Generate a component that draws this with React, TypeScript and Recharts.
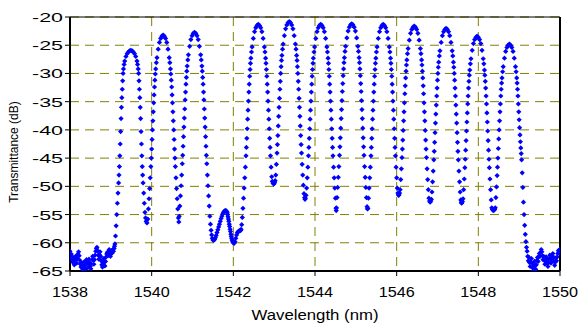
import React from 'react';
import { ScatterChart, Scatter, XAxis, YAxis, CartesianGrid, ReferenceLine } from 'recharts';

// wavelength (nm), transmittance (dB)
const noiseLeft: [number, number][] = [
  [1538.0, -61.5], [1538.015, -62.3], [1538.03, -62.0], [1538.045, -62.8], [1538.06, -63.4], [1538.075, -62.6],
  [1538.09, -63.2], [1538.105, -63.9], [1538.12, -63.0], [1538.135, -62.4], [1538.15, -62.9], [1538.165, -63.6],
  [1538.18, -62.8], [1538.195, -62.0], [1538.21, -61.6], [1538.225, -62.3], [1538.24, -63.1], [1538.255, -63.8],
  [1538.27, -64.3], [1538.285, -63.5], [1538.3, -64.1], [1538.315, -64.8], [1538.33, -64.2], [1538.345, -63.4],
  [1538.36, -64.0], [1538.375, -64.7], [1538.39, -63.8], [1538.405, -63.0], [1538.42, -63.6], [1538.435, -64.4],
  [1538.45, -63.7], [1538.465, -62.9], [1538.48, -63.5], [1538.495, -64.2], [1538.51, -64.6], [1538.525, -63.8],
  [1538.54, -63.0], [1538.555, -62.4], [1538.57, -63.1], [1538.585, -63.8], [1538.6, -63.0], [1538.615, -62.2],
  [1538.63, -61.5], [1538.645, -61.0], [1538.66, -60.8], [1538.675, -61.4], [1538.69, -62.2], [1538.705, -62.9],
  [1538.72, -62.1], [1538.735, -61.6], [1538.75, -62.4], [1538.765, -63.2], [1538.78, -63.9], [1538.795, -64.3],
  [1538.81, -63.6], [1538.825, -62.8], [1538.84, -63.4], [1538.855, -64.1], [1538.87, -63.3], [1538.885, -62.5],
  [1538.9, -62.0], [1538.915, -61.7], [1538.93, -62.3], [1538.945, -61.6], [1538.96, -61.2], [1538.975, -61.8],
  [1538.99, -62.4], [1539.005, -61.9], [1539.02, -61.4], [1539.035, -61.8], [1539.05, -61.2], [1539.065, -61.5],
  [1539.08, -61.0], [1539.09, -60.6],
];

const fringe1: [number, number][] = [
  [1539.1, -60.2], [1539.115, -58.8], [1539.13, -57.0], [1539.145, -55.0], [1539.16, -53.0], [1539.175, -51.2],
  [1539.19, -49.4], [1539.2, -48.0], [1539.21, -46.5], [1539.22, -44.6], [1539.23, -42.5], [1539.24, -40.3],
  [1539.25, -38.0], [1539.26, -36.0], [1539.27, -34.3], [1539.28, -32.8], [1539.29, -31.3], [1539.3, -30.0],
  [1539.31, -29.2], [1539.325, -28.4], [1539.34, -27.8], [1539.37, -27.0], [1539.4, -26.5], [1539.43, -26.2],
  [1539.46, -26.0], [1539.49, -25.9], [1539.52, -26.0], [1539.55, -26.2], [1539.58, -26.5], [1539.61, -27.0],
  [1539.64, -27.8], [1539.655, -28.4], [1539.67, -29.2], [1539.68, -30.0], [1539.69, -31.3], [1539.7, -32.8],
  [1539.71, -34.3], [1539.72, -36.0], [1539.73, -38.0], [1539.74, -40.3], [1539.75, -42.5], [1539.76, -44.6],
  [1539.77, -46.5], [1539.78, -48.0], [1539.79, -49.4], [1539.805, -51.2], [1539.82, -53.0], [1539.835, -54.6],
  [1539.85, -55.6], [1539.865, -56.2], [1539.885, -56.5],
];

const fringe2: [number, number][] = [
  [1539.905, -55.8], [1539.92, -54.0], [1539.935, -52.2], [1539.95, -50.4], [1539.965, -48.5], [1539.98, -46.5],
  [1539.99, -45.0], [1540.0, -43.4], [1540.01, -41.7], [1540.02, -40.0], [1540.03, -38.4], [1540.04, -36.8],
  [1540.05, -35.2], [1540.06, -33.8], [1540.07, -32.4], [1540.08, -31.2], [1540.09, -30.1], [1540.1, -29.2],
  [1540.115, -28.1], [1540.13, -27.2], [1540.16, -25.7], [1540.19, -24.5], [1540.22, -23.8], [1540.25, -23.4],
  [1540.28, -23.2], [1540.31, -23.4], [1540.34, -23.8], [1540.37, -24.5], [1540.4, -25.7], [1540.43, -27.2],
  [1540.445, -28.1], [1540.46, -29.2], [1540.47, -30.1], [1540.48, -31.2], [1540.49, -32.4], [1540.5, -33.8],
  [1540.51, -35.2], [1540.52, -36.8], [1540.53, -38.4], [1540.54, -40.0], [1540.55, -41.7], [1540.56, -43.4],
  [1540.57, -45.0], [1540.58, -46.5], [1540.595, -48.5], [1540.61, -50.4], [1540.625, -52.2], [1540.64, -54.0],
  [1540.655, -55.6], [1540.665, -56.3],
];

const fringe3: [number, number][] = [
  [1540.675, -55.3], [1540.69, -53.5], [1540.705, -51.7], [1540.72, -49.9], [1540.735, -48.0], [1540.75, -46.0],
  [1540.76, -44.5], [1540.77, -42.9], [1540.78, -41.2], [1540.79, -39.5], [1540.8, -37.9], [1540.81, -36.3],
  [1540.82, -34.7], [1540.83, -33.3], [1540.84, -31.9], [1540.85, -30.7], [1540.86, -29.6], [1540.87, -28.7],
  [1540.885, -27.6], [1540.9, -26.7], [1540.93, -25.2], [1540.96, -24.0], [1540.99, -23.3], [1541.02, -22.9],
  [1541.05, -22.7], [1541.08, -22.9], [1541.11, -23.3], [1541.14, -24.0], [1541.17, -25.2], [1541.2, -26.7],
  [1541.215, -27.6], [1541.23, -28.7], [1541.24, -29.6], [1541.25, -30.7], [1541.26, -31.9], [1541.27, -33.3],
  [1541.28, -34.7], [1541.29, -36.3], [1541.3, -37.9], [1541.31, -39.5], [1541.32, -41.2], [1541.33, -42.9],
  [1541.34, -44.5], [1541.35, -46.0], [1541.365, -48.0], [1541.38, -49.9], [1541.395, -51.7], [1541.41, -53.5],
  [1541.425, -55.3], [1541.44, -56.7], [1541.455, -57.8], [1541.47, -58.6], [1541.485, -59.2],
];

const dip: [number, number][] = [
  [1541.5, -59.5], [1541.52, -59.6], [1541.54, -59.4], [1541.56, -59.1], [1541.58, -58.7], [1541.6, -58.2],
  [1541.62, -57.7], [1541.64, -57.2], [1541.66, -56.7], [1541.68, -56.2], [1541.7, -55.7], [1541.72, -55.3],
  [1541.74, -54.9], [1541.76, -54.6], [1541.78, -54.4], [1541.8, -54.3], [1541.82, -54.3], [1541.84, -54.5],
  [1541.85, -54.7], [1541.86, -55.0], [1541.87, -55.4], [1541.88, -55.8], [1541.89, -56.2], [1541.9, -56.7],
  [1541.91, -57.1], [1541.92, -57.6], [1541.93, -58.0], [1541.94, -58.5], [1541.95, -58.9], [1541.96, -59.2],
  [1541.97, -59.5], [1541.98, -59.7], [1541.99, -59.9], [1542.0, -60.0], [1542.02, -60.1], [1542.04, -59.8],
  [1542.06, -59.2], [1542.08, -58.6], [1542.1, -58.2], [1542.12, -58.0], [1542.14, -57.9], [1542.16, -57.9],
  [1542.18, -57.8],
];

const fringe4: [number, number][] = [
  [1542.19, -57.6], [1542.205, -56.8], [1542.22, -55.5], [1542.235, -53.9], [1542.25, -52.1], [1542.265, -50.3],
  [1542.28, -48.5], [1542.295, -46.6], [1542.31, -44.6], [1542.32, -43.1], [1542.33, -41.5], [1542.34, -39.8],
  [1542.35, -38.1], [1542.36, -36.5], [1542.37, -34.9], [1542.38, -33.3], [1542.39, -31.9], [1542.4, -30.5],
  [1542.41, -29.3], [1542.42, -28.2], [1542.43, -27.3], [1542.445, -26.2], [1542.46, -25.3], [1542.49, -23.8],
  [1542.52, -22.6], [1542.55, -21.9], [1542.58, -21.5], [1542.61, -21.3], [1542.64, -21.5], [1542.67, -21.9],
  [1542.7, -22.6], [1542.73, -23.8], [1542.76, -25.3], [1542.775, -26.2], [1542.79, -27.3], [1542.8, -28.2],
  [1542.81, -29.3], [1542.82, -30.5], [1542.83, -31.9], [1542.84, -33.3], [1542.85, -34.9], [1542.86, -36.5],
  [1542.87, -38.1], [1542.88, -39.8], [1542.89, -41.5], [1542.9, -43.1], [1542.91, -44.6], [1542.925, -46.6],
  [1542.94, -48.3], [1542.955, -49.1], [1542.97, -49.4], [1542.985, -49.5], [1542.99, -49.6],
];

const fringe5: [number, number][] = [
  [1542.995, -49.5], [1543.01, -49.3], [1543.025, -49.0], [1543.04, -48.0], [1543.055, -46.1], [1543.07, -44.1],
  [1543.08, -42.6], [1543.09, -41.0], [1543.1, -39.3], [1543.11, -37.6], [1543.12, -36.0], [1543.13, -34.4],
  [1543.14, -32.8], [1543.15, -31.4], [1543.16, -30.0], [1543.17, -28.8], [1543.18, -27.7], [1543.19, -26.8],
  [1543.205, -25.7], [1543.22, -24.8], [1543.25, -23.3], [1543.28, -22.1], [1543.31, -21.4], [1543.34, -21.0],
  [1543.37, -20.8], [1543.4, -21.0], [1543.43, -21.4], [1543.46, -22.1], [1543.49, -23.3], [1543.52, -24.8],
  [1543.535, -25.7], [1543.55, -26.8], [1543.56, -27.7], [1543.57, -28.8], [1543.58, -30.0], [1543.59, -31.4],
  [1543.6, -32.8], [1543.61, -34.4], [1543.62, -36.0], [1543.63, -37.6], [1543.64, -39.3], [1543.65, -41.0],
  [1543.66, -42.6], [1543.67, -44.1], [1543.685, -46.1], [1543.7, -48.0], [1543.715, -49.8], [1543.73, -51.3],
  [1543.745, -52.0], [1543.755, -52.3],
];

const fringe6: [number, number][] = [
  [1543.765, -52.1], [1543.78, -51.6], [1543.795, -50.3], [1543.81, -48.5], [1543.825, -46.6], [1543.84, -44.6],
  [1543.85, -43.1], [1543.86, -41.5], [1543.87, -39.8], [1543.88, -38.1], [1543.89, -36.5], [1543.9, -34.9],
  [1543.91, -33.3], [1543.92, -31.9], [1543.93, -30.5], [1543.94, -29.3], [1543.95, -28.2], [1543.96, -27.3],
  [1543.975, -26.2], [1543.99, -25.3], [1544.02, -23.8], [1544.05, -22.6], [1544.08, -21.9], [1544.11, -21.5],
  [1544.14, -21.3], [1544.17, -21.5], [1544.2, -21.9], [1544.23, -22.6], [1544.26, -23.8], [1544.29, -25.3],
  [1544.305, -26.2], [1544.32, -27.3], [1544.33, -28.2], [1544.34, -29.3], [1544.35, -30.5], [1544.36, -31.9],
  [1544.37, -33.3], [1544.38, -34.9], [1544.39, -36.5], [1544.4, -38.1], [1544.41, -39.8], [1544.42, -41.5],
  [1544.43, -43.1], [1544.44, -44.6], [1544.455, -46.6], [1544.47, -48.5], [1544.485, -50.3], [1544.5, -52.1],
  [1544.515, -53.9], [1544.52, -54.3],
];

const fringe7: [number, number][] = [
  [1544.525, -53.8], [1544.54, -52.0], [1544.555, -50.2], [1544.57, -48.4], [1544.585, -46.5], [1544.6, -44.5],
  [1544.61, -43.0], [1544.62, -41.4], [1544.63, -39.7], [1544.64, -38.0], [1544.65, -36.4], [1544.66, -34.8],
  [1544.67, -33.2], [1544.68, -31.8], [1544.69, -30.4], [1544.7, -29.2], [1544.71, -28.1], [1544.72, -27.2],
  [1544.735, -26.1], [1544.75, -25.2], [1544.78, -23.7], [1544.81, -22.5], [1544.84, -21.8], [1544.87, -21.4],
  [1544.9, -21.2], [1544.93, -21.4], [1544.96, -21.8], [1544.99, -22.5], [1545.02, -23.7], [1545.05, -25.2],
  [1545.065, -26.1], [1545.08, -27.2], [1545.09, -28.1], [1545.1, -29.2], [1545.11, -30.4], [1545.12, -31.8],
  [1545.13, -33.2], [1545.14, -34.8], [1545.15, -36.4], [1545.16, -38.0], [1545.17, -39.7], [1545.18, -41.4],
  [1545.19, -43.0], [1545.2, -44.5], [1545.215, -46.5], [1545.23, -48.4], [1545.245, -50.2], [1545.26, -52.0],
  [1545.275, -53.6], [1545.285, -54.0],
];

const fringe8: [number, number][] = [
  [1545.295, -53.9], [1545.31, -52.1], [1545.325, -50.3], [1545.34, -48.5], [1545.355, -46.6], [1545.37, -44.6],
  [1545.38, -43.1], [1545.39, -41.5], [1545.4, -39.8], [1545.41, -38.1], [1545.42, -36.5], [1545.43, -34.9],
  [1545.44, -33.3], [1545.45, -31.9], [1545.46, -30.5], [1545.47, -29.3], [1545.48, -28.2], [1545.49, -27.3],
  [1545.505, -26.2], [1545.52, -25.3], [1545.55, -23.8], [1545.58, -22.6], [1545.61, -21.9], [1545.64, -21.5],
  [1545.67, -21.3], [1545.7, -21.5], [1545.73, -21.9], [1545.76, -22.6], [1545.79, -23.8], [1545.82, -25.3],
  [1545.835, -26.2], [1545.85, -27.3], [1545.86, -28.2], [1545.87, -29.3], [1545.88, -30.5], [1545.89, -31.9],
  [1545.9, -33.3], [1545.91, -34.9], [1545.92, -36.5], [1545.93, -38.1], [1545.94, -39.8], [1545.95, -41.5],
  [1545.96, -43.1], [1545.97, -44.6], [1545.985, -46.6], [1546.0, -48.5], [1546.015, -50.3], [1546.03, -51.2],
  [1546.045, -51.5], [1546.05, -51.6],
];

const fringe9: [number, number][] = [
  [1546.055, -51.5], [1546.07, -51.2], [1546.085, -50.6], [1546.1, -48.8], [1546.115, -46.9], [1546.13, -44.9],
  [1546.14, -43.4], [1546.15, -41.8], [1546.16, -40.1], [1546.17, -38.4], [1546.18, -36.8], [1546.19, -35.2],
  [1546.2, -33.6], [1546.21, -32.2], [1546.22, -30.8], [1546.23, -29.6], [1546.24, -28.5], [1546.25, -27.6],
  [1546.265, -26.5], [1546.28, -25.6], [1546.31, -24.1], [1546.34, -22.9], [1546.37, -22.2], [1546.4, -21.8],
  [1546.43, -21.6], [1546.46, -21.8], [1546.49, -22.2], [1546.52, -22.9], [1546.55, -24.1], [1546.58, -25.6],
  [1546.595, -26.5], [1546.61, -27.6], [1546.62, -28.5], [1546.63, -29.6], [1546.64, -30.8], [1546.65, -32.2],
  [1546.66, -33.6], [1546.67, -35.2], [1546.68, -36.8], [1546.69, -38.4], [1546.7, -40.1], [1546.71, -41.8],
  [1546.72, -43.4], [1546.73, -44.9], [1546.745, -46.9], [1546.76, -48.8], [1546.775, -50.6], [1546.79, -52.1],
  [1546.805, -52.6], [1546.82, -52.8],
];

const fringe10: [number, number][] = [
  [1546.835, -52.6], [1546.85, -52.3], [1546.865, -51.0], [1546.88, -49.2], [1546.895, -47.3], [1546.91, -45.3],
  [1546.92, -43.8], [1546.93, -42.2], [1546.94, -40.5], [1546.95, -38.8], [1546.96, -37.2], [1546.97, -35.6],
  [1546.98, -34.0], [1546.99, -32.6], [1547.0, -31.2], [1547.01, -30.0], [1547.02, -28.9], [1547.03, -28.0],
  [1547.045, -26.9], [1547.06, -26.0], [1547.09, -24.5], [1547.12, -23.3], [1547.15, -22.6], [1547.18, -22.2],
  [1547.21, -22.0], [1547.24, -22.2], [1547.27, -22.6], [1547.3, -23.3], [1547.33, -24.5], [1547.36, -26.0],
  [1547.375, -26.9], [1547.39, -28.0], [1547.4, -28.9], [1547.41, -30.0], [1547.42, -31.2], [1547.43, -32.6],
  [1547.44, -34.0], [1547.45, -35.6], [1547.46, -37.2], [1547.47, -38.8], [1547.48, -40.5], [1547.49, -42.2],
  [1547.5, -43.8], [1547.51, -45.3], [1547.525, -47.3], [1547.54, -49.2], [1547.555, -51.0], [1547.57, -52.4],
  [1547.585, -52.8], [1547.59, -53.0],
];

const fringe11: [number, number][] = [
  [1547.595, -52.9], [1547.61, -52.7], [1547.625, -52.2], [1547.64, -50.6], [1547.655, -48.7], [1547.67, -46.7],
  [1547.68, -45.2], [1547.69, -43.6], [1547.7, -41.9], [1547.71, -40.2], [1547.72, -38.6], [1547.73, -37.0],
  [1547.74, -35.4], [1547.75, -34.0], [1547.76, -32.6], [1547.77, -31.4], [1547.78, -30.3], [1547.79, -29.4],
  [1547.805, -28.3], [1547.82, -27.4], [1547.85, -25.9], [1547.88, -24.7], [1547.91, -24.0], [1547.94, -23.6],
  [1547.97, -23.4], [1548.0, -23.6], [1548.03, -24.0], [1548.06, -24.7], [1548.09, -25.9], [1548.12, -27.4],
  [1548.135, -28.3], [1548.15, -29.4], [1548.16, -30.3], [1548.17, -31.4], [1548.18, -32.6], [1548.19, -34.0],
  [1548.2, -35.4], [1548.21, -37.0], [1548.22, -38.6], [1548.23, -40.2], [1548.24, -41.9], [1548.25, -43.6],
  [1548.26, -45.2], [1548.27, -46.7], [1548.285, -48.7], [1548.3, -50.6], [1548.315, -52.4], [1548.33, -53.8],
  [1548.345, -54.1], [1548.365, -54.3],
];

const fringe12: [number, number][] = [
  [1548.385, -54.2], [1548.4, -54.1], [1548.415, -53.8], [1548.43, -52.0], [1548.445, -50.1], [1548.46, -48.1],
  [1548.47, -46.6], [1548.48, -45.0], [1548.49, -43.3], [1548.5, -41.6], [1548.51, -40.0], [1548.52, -38.4],
  [1548.53, -36.8], [1548.54, -35.4], [1548.55, -34.0], [1548.56, -32.8], [1548.57, -31.7], [1548.58, -30.8],
  [1548.595, -29.7], [1548.61, -28.8], [1548.64, -27.3], [1548.67, -26.1], [1548.7, -25.4], [1548.73, -25.0],
  [1548.76, -24.8], [1548.79, -25.0], [1548.82, -25.4], [1548.85, -26.1], [1548.88, -27.3], [1548.91, -28.8],
  [1548.925, -29.7], [1548.94, -30.8], [1548.95, -31.7], [1548.96, -32.8], [1548.97, -34.0], [1548.98, -35.4],
  [1548.99, -36.8], [1549.0, -38.2], [1549.01, -39.6], [1549.02, -40.9], [1549.03, -42.1], [1549.04, -43.2],
  [1549.05, -44.2], [1549.06, -45.3], [1549.075, -47.6], [1549.09, -50.2], [1549.105, -52.8], [1549.12, -55.0],
  [1549.135, -56.9], [1549.15, -58.5], [1549.165, -59.8], [1549.18, -60.8],
];

const noiseRight: [number, number][] = [
  [1549.195, -61.5], [1549.21, -62.4], [1549.225, -63.2], [1549.24, -62.6], [1549.255, -63.5], [1549.27, -64.2],
  [1549.285, -63.4], [1549.3, -62.8], [1549.315, -63.6], [1549.33, -64.4], [1549.345, -64.9], [1549.36, -64.1],
  [1549.375, -63.3], [1549.39, -64.0], [1549.405, -64.7], [1549.42, -63.9], [1549.435, -63.1], [1549.45, -62.6],
  [1549.465, -63.3], [1549.48, -62.5], [1549.495, -61.9], [1549.51, -62.4], [1549.525, -61.7], [1549.54, -61.2],
  [1549.555, -61.6], [1549.57, -62.3], [1549.585, -63.0], [1549.6, -62.4], [1549.615, -63.1], [1549.63, -63.8],
  [1549.645, -63.2], [1549.66, -62.5], [1549.675, -63.0], [1549.69, -63.7], [1549.705, -64.2], [1549.72, -63.5],
  [1549.735, -62.8], [1549.75, -62.2], [1549.765, -62.9], [1549.78, -63.6], [1549.795, -62.9], [1549.81, -62.3],
  [1549.825, -61.9], [1549.84, -62.6], [1549.855, -63.3], [1549.87, -64.0], [1549.885, -63.4], [1549.9, -62.7],
  [1549.915, -63.2], [1549.93, -62.5], [1549.945, -61.9], [1549.96, -61.4], [1549.975, -61.8], [1549.99, -61.2],
  [1550.0, -61.6],
];

const xTicks = [1538, 1540, 1542, 1544, 1546, 1548, 1550];
const yTicks = [-65, -60, -55, -50, -45, -40, -35, -30, -25, -20];
const xTitle = 'Wavelength (nm)';
const yTitle = 'Transmittance (dB)';

const spectrum = [
  ...noiseLeft, ...fringe1, ...fringe2, ...fringe3, ...dip, ...fringe4, ...fringe5, ...fringe6,
  ...fringe7, ...fringe8, ...fringe9, ...fringe10, ...fringe11, ...fringe12, ...noiseRight,
].map(([x, y]) => ({ x, y }));

const FONT = '"Liberation Sans", Arial, sans-serif';
const BLUE = '#0000FF';
const OLIVE = '#808000';

const Diamond = (props: any) => {
  const { cx, cy } = props;
  if (cx == null || cy == null) return <g />;
  const r = 2.6;
  return (
    <polygon
      points={`${cx},${cy - r} ${cx + r},${cy} ${cx},${cy + r} ${cx - r},${cy}`}
      fill={BLUE}
    />
  );
};

const YTick = ({ x, y, payload }: any) => (
  <text x={x} y={y} dy={5} textAnchor="end" fontSize={13} fontFamily={FONT} fill="#000"
    textLength={31} lengthAdjust="spacingAndGlyphs">
    {payload.value}
  </text>
);

const XTick = ({ x, y, payload }: any) => (
  <text x={x} y={y} dy={19} textAnchor="middle" fontSize={14} fontFamily={FONT} fill="#000"
    textLength={36} lengthAdjust="spacingAndGlyphs">
    {payload.value}
  </text>
);

const XTitle = ({ viewBox }: any) => (
  <text x={viewBox.x + viewBox.width / 2} y={viewBox.y + 49} textAnchor="middle" fontSize={14}
    fontFamily={FONT} fill="#000" textLength={127} lengthAdjust="spacingAndGlyphs">
    {xTitle}
  </text>
);

const YTitle = ({ viewBox }: any) => {
  const x = viewBox.x + 18;
  const y = viewBox.y + viewBox.height / 2 + 8;
  return (
    <text x={x} y={y} transform={`rotate(-90, ${x}, ${y})`} textAnchor="middle" fontSize={12}
      fontFamily={FONT} fill="#000">
      {yTitle}
    </text>
  );
};

export default function App() {
  return (
    <div style={{ position: 'absolute', left: 0, top: 0, width: 579, height: 323, background: '#fff' }}>
      <ScatterChart width={579} height={323} margin={{ top: 17, right: 19, bottom: 0, left: 0 }}>
        <CartesianGrid stroke={OLIVE} strokeDasharray="9 6" />
        <XAxis
          type="number"
          dataKey="x"
          domain={[1538, 1550]}
          ticks={xTicks}
          interval={0}
          allowDataOverflow
          height={52}
          tickSize={5}
          axisLine={{ stroke: '#000', strokeWidth: 2 }}
          tickLine={{ stroke: '#000' }}
          tick={<XTick />}
          label={<XTitle />}
        />
        <YAxis
          type="number"
          dataKey="y"
          domain={[-65, -20]}
          ticks={yTicks}
          interval={0}
          allowDataOverflow
          width={70}
          tickSize={5}
          axisLine={{ stroke: '#000', strokeWidth: 2 }}
          tickLine={{ stroke: '#000' }}
          tick={<YTick />}
          label={<YTitle />}
        />
        <ReferenceLine y={-20} stroke="#000" strokeWidth={1} />
        <ReferenceLine x={1550} stroke="#000" strokeWidth={2} />
        <Scatter data={spectrum} fill={BLUE} shape={(p: any) => <Diamond {...p} />} isAnimationActive={false} />
      </ScatterChart>
    </div>
  );
}
